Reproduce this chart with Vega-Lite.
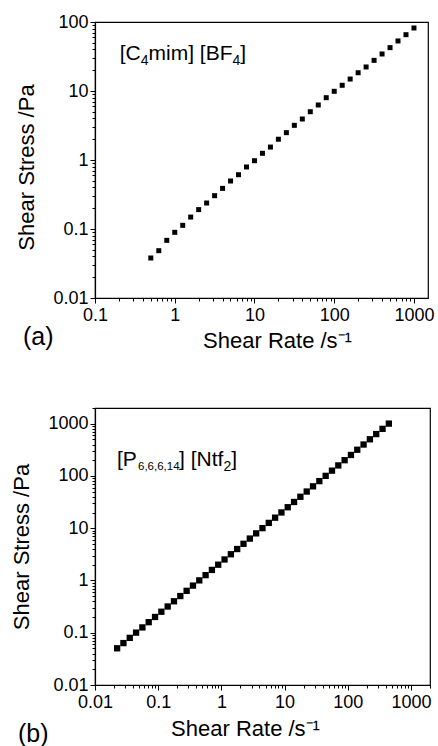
{
  "$schema": "https://vega.github.io/schema/vega-lite/v6.json",
  "padding": {"left": 10, "top": 12, "right": 2, "bottom": 0},
  "spacing": 46,
  "datasets": {
    "a": [
      {"rate": 0.501, "stress": 0.038}, {"rate": 0.631, "stress": 0.0485}, {"rate": 0.794, "stress": 0.0685},
      {"rate": 1, "stress": 0.0895}, {"rate": 1.259, "stress": 0.113}, {"rate": 1.585, "stress": 0.149},
      {"rate": 1.995, "stress": 0.191}, {"rate": 2.512, "stress": 0.238}, {"rate": 3.162, "stress": 0.304},
      {"rate": 3.981, "stress": 0.388}, {"rate": 5.012, "stress": 0.496}, {"rate": 6.31, "stress": 0.612},
      {"rate": 7.943, "stress": 0.792}, {"rate": 10, "stress": 0.977}, {"rate": 12.59, "stress": 1.25},
      {"rate": 15.85, "stress": 1.54}, {"rate": 19.95, "stress": 2.0}, {"rate": 25.12, "stress": 2.49},
      {"rate": 31.62, "stress": 3.18}, {"rate": 39.81, "stress": 3.93}, {"rate": 50.12, "stress": 5.01},
      {"rate": 63.1, "stress": 6.27}, {"rate": 79.43, "stress": 8.0}, {"rate": 100, "stress": 9.9},
      {"rate": 125.9, "stress": 12.1}, {"rate": 158.5, "stress": 14.9}, {"rate": 199.5, "stress": 18.4},
      {"rate": 251.2, "stress": 22.3}, {"rate": 316.2, "stress": 27.8}, {"rate": 398.1, "stress": 34.4},
      {"rate": 501.2, "stress": 42.5}, {"rate": 631, "stress": 53.1}, {"rate": 794.3, "stress": 65.5},
      {"rate": 1000, "stress": 81.9}
    ],
    "b": [
      {"rate": 0.02239, "stress": 0.0504}, {"rate": 0.02818, "stress": 0.0634}, {"rate": 0.03548, "stress": 0.0798},
      {"rate": 0.04467, "stress": 0.1005}, {"rate": 0.05623, "stress": 0.1265}, {"rate": 0.07079, "stress": 0.1593},
      {"rate": 0.08913, "stress": 0.2005}, {"rate": 0.1122, "stress": 0.2524}, {"rate": 0.1413, "stress": 0.3179},
      {"rate": 0.1778, "stress": 0.4001}, {"rate": 0.2239, "stress": 0.5038}, {"rate": 0.2818, "stress": 0.634},
      {"rate": 0.3548, "stress": 0.798}, {"rate": 0.4467, "stress": 1.005}, {"rate": 0.5623, "stress": 1.265},
      {"rate": 0.7079, "stress": 1.593}, {"rate": 0.8913, "stress": 2.005}, {"rate": 1.122, "stress": 2.525},
      {"rate": 1.413, "stress": 3.179}, {"rate": 1.778, "stress": 4.0}, {"rate": 2.239, "stress": 5.038},
      {"rate": 2.818, "stress": 6.34}, {"rate": 3.548, "stress": 7.98}, {"rate": 4.467, "stress": 10.05},
      {"rate": 5.623, "stress": 12.65}, {"rate": 7.079, "stress": 15.93}, {"rate": 8.913, "stress": 20.05},
      {"rate": 11.22, "stress": 25.24}, {"rate": 14.13, "stress": 31.79}, {"rate": 17.78, "stress": 40.0},
      {"rate": 22.39, "stress": 50.4}, {"rate": 28.18, "stress": 63.4}, {"rate": 35.48, "stress": 79.8},
      {"rate": 44.67, "stress": 100.5}, {"rate": 56.23, "stress": 126.5}, {"rate": 70.79, "stress": 159.3},
      {"rate": 89.13, "stress": 200.5}, {"rate": 112.2, "stress": 252.4}, {"rate": 141.3, "stress": 317.9},
      {"rate": 177.8, "stress": 400.1}, {"rate": 223.9, "stress": 503.8}, {"rate": 281.8, "stress": 634.1},
      {"rate": 354.8, "stress": 798.3}, {"rate": 446.7, "stress": 1005}
    ]
  },
  "vconcat": [
    {
      "width": 333,
      "height": 276,
      "title": {"text": "(a)", "orient": "bottom", "anchor": "start", "frame": "bounds", "fontSize": 25, "fontWeight": "normal", "offset": -26, "dx": 7},
      "layer": [
        {
          "data": {"name": "a"},
          "mark": {"type": "point", "shape": "square", "filled": true, "color": "black", "size": 25, "opacity": 1},
          "encoding": {
            "x": {"field": "rate", "type": "quantitative",
              "scale": {"type": "log", "domain": [0.1, 1500], "nice": false},
              "axis": {"title": "Shear Rate /s⁻¹", "titleX": 182,
                "values": [0.1,0.2,0.3,0.4,0.5,0.6,0.7,0.8,0.9,1,2,3,4,5,6,7,8,9,10,20,30,40,50,60,70,80,90,100,200,300,400,500,600,700,800,900,1000],
                "labelExpr": "abs(log(datum.value)/LN10 - round(log(datum.value)/LN10)) < 0.001 ? format(datum.value, '~g') : ''",
                "tickSize": {"condition": {"test": "abs(log(datum.value)/LN10 - round(log(datum.value)/LN10)) < 0.001", "value": 5}, "value": 3},
                "labelPadding": 3, "titlePadding": 6}},
            "y": {"field": "stress", "type": "quantitative",
              "scale": {"type": "log", "domain": [0.01, 100], "nice": false},
              "axis": {"title": "Shear Stress /Pa", "titleY": 145,
                "values": [0.01,0.02,0.03,0.04,0.05,0.06,0.07,0.08,0.09,0.1,0.2,0.3,0.4,0.5,0.6,0.7,0.8,0.9,1,2,3,4,5,6,7,8,9,10,20,30,40,50,60,70,80,90,100],
                "labelExpr": "abs(log(datum.value)/LN10 - round(log(datum.value)/LN10)) < 0.001 ? format(datum.value, '~g') : ''",
                "tickSize": {"condition": {"test": "abs(log(datum.value)/LN10 - round(log(datum.value)/LN10)) < 0.001", "value": 5}, "value": 3},
                "labelPadding": 2, "titlePadding": 14}}
          }
        },
        {
          "data": {"values": [{"label": "[C"}]},
          "mark": {"type": "text", "align": "left", "baseline": "alphabetic", "fontSize": 21, "color": "black"},
          "encoding": {"x": {"datum": 0.204, "type": "quantitative"}, "y": {"datum": 28.5, "type": "quantitative"}, "text": {"field": "label"}}
        },
        {
          "data": {"values": [{"label": "4"}]},
          "mark": {"type": "text", "align": "left", "baseline": "alphabetic", "fontSize": 14, "color": "black", "dx": 21, "dy": 5},
          "encoding": {"x": {"datum": 0.204, "type": "quantitative"}, "y": {"datum": 28.5, "type": "quantitative"}, "text": {"field": "label"}}
        },
        {
          "data": {"values": [{"label": "mim] [BF"}]},
          "mark": {"type": "text", "align": "left", "baseline": "alphabetic", "fontSize": 21, "color": "black", "dx": 28.8},
          "encoding": {"x": {"datum": 0.204, "type": "quantitative"}, "y": {"datum": 28.5, "type": "quantitative"}, "text": {"field": "label"}}
        },
        {
          "data": {"values": [{"label": "4"}]},
          "mark": {"type": "text", "align": "left", "baseline": "alphabetic", "fontSize": 14, "color": "black", "dx": 112.8, "dy": 5},
          "encoding": {"x": {"datum": 0.204, "type": "quantitative"}, "y": {"datum": 28.5, "type": "quantitative"}, "text": {"field": "label"}}
        },
        {
          "data": {"values": [{"label": "]"}]},
          "mark": {"type": "text", "align": "left", "baseline": "alphabetic", "fontSize": 21, "color": "black", "dx": 120.6},
          "encoding": {"x": {"datum": 0.204, "type": "quantitative"}, "y": {"datum": 28.5, "type": "quantitative"}, "text": {"field": "label"}}
        }
      ]
    },
    {
      "width": 335,
      "height": 277,
      "title": {"text": "(b)", "orient": "bottom", "anchor": "start", "frame": "bounds", "fontSize": 25, "fontWeight": "normal", "offset": -17, "dx": 7},
      "layer": [
        {
          "data": {"name": "b"},
          "mark": {"type": "point", "shape": "square", "filled": true, "color": "black", "size": 40, "opacity": 1},
          "encoding": {
            "x": {"field": "rate", "type": "quantitative",
              "scale": {"type": "log", "domain": [0.01, 2000], "nice": false},
              "axis": {"title": "Shear Rate /s⁻¹", "titleX": 150,
                "values": [0.01,0.02,0.03,0.04,0.05,0.06,0.07,0.08,0.09,0.1,0.2,0.3,0.4,0.5,0.6,0.7,0.8,0.9,1,2,3,4,5,6,7,8,9,10,20,30,40,50,60,70,80,90,100,200,300,400,500,600,700,800,900,1000,2000],
                "labelExpr": "abs(log(datum.value)/LN10 - round(log(datum.value)/LN10)) < 0.001 ? format(datum.value, '~g') : ''",
                "tickSize": {"condition": {"test": "abs(log(datum.value)/LN10 - round(log(datum.value)/LN10)) < 0.001", "value": 5}, "value": 3},
                "labelPadding": 3, "titlePadding": 7}},
            "y": {"field": "stress", "type": "quantitative",
              "scale": {"type": "log", "domain": [0.01, 2000], "nice": false},
              "axis": {"title": "Shear Stress /Pa",
                "values": [0.01,0.02,0.03,0.04,0.05,0.06,0.07,0.08,0.09,0.1,0.2,0.3,0.4,0.5,0.6,0.7,0.8,0.9,1,2,3,4,5,6,7,8,9,10,20,30,40,50,60,70,80,90,100,200,300,400,500,600,700,800,900,1000,2000],
                "labelExpr": "abs(log(datum.value)/LN10 - round(log(datum.value)/LN10)) < 0.001 ? format(datum.value, '~g') : ''",
                "tickSize": {"condition": {"test": "abs(log(datum.value)/LN10 - round(log(datum.value)/LN10)) < 0.001", "value": 5}, "value": 3},
                "labelPadding": 2, "titlePadding": 14}}
          }
        },
        {
          "data": {"values": [{"label": "[P"}]},
          "mark": {"type": "text", "align": "left", "baseline": "alphabetic", "fontSize": 21, "color": "black"},
          "encoding": {"x": {"datum": 0.0223, "type": "quantitative"}, "y": {"datum": 156, "type": "quantitative"}, "text": {"field": "label"}}
        },
        {
          "data": {"values": [{"label": "6,6,6,14"}]},
          "mark": {"type": "text", "align": "left", "baseline": "alphabetic", "fontSize": 11.5, "font": "Liberation Sans Narrow, Liberation Sans", "color": "black", "dx": 21, "dy": 4.5},
          "encoding": {"x": {"datum": 0.0223, "type": "quantitative"}, "y": {"datum": 156, "type": "quantitative"}, "text": {"field": "label"}}
        },
        {
          "data": {"values": [{"label": "] [Ntf"}]},
          "mark": {"type": "text", "align": "left", "baseline": "alphabetic", "fontSize": 21, "color": "black", "dx": 62},
          "encoding": {"x": {"datum": 0.0223, "type": "quantitative"}, "y": {"datum": 156, "type": "quantitative"}, "text": {"field": "label"}}
        },
        {
          "data": {"values": [{"label": "2"}]},
          "mark": {"type": "text", "align": "left", "baseline": "alphabetic", "fontSize": 14, "color": "black", "dx": 106.4, "dy": 5},
          "encoding": {"x": {"datum": 0.0223, "type": "quantitative"}, "y": {"datum": 156, "type": "quantitative"}, "text": {"field": "label"}}
        },
        {
          "data": {"values": [{"label": "]"}]},
          "mark": {"type": "text", "align": "left", "baseline": "alphabetic", "fontSize": 21, "color": "black", "dx": 114.2},
          "encoding": {"x": {"datum": 0.0223, "type": "quantitative"}, "y": {"datum": 156, "type": "quantitative"}, "text": {"field": "label"}}
        }
      ]
    }
  ],
  "config": {
    "font": "Liberation Sans",
    "view": {"stroke": "black", "strokeWidth": 1.2},
    "title": {"color": "black", "font": "Liberation Sans"},
    "axis": {"domainColor": "black", "domainWidth": 1.2, "tickColor": "black", "tickWidth": 1,
      "labelColor": "black", "titleColor": "black", "labelFont": "Liberation Sans", "titleFont": "Liberation Sans",
      "labelFontSize": 18, "titleFontSize": 22, "titleFontWeight": "normal", "grid": false,
      "labelFlush": false, "labelOverlap": false, "labelBound": false}
  }
}
